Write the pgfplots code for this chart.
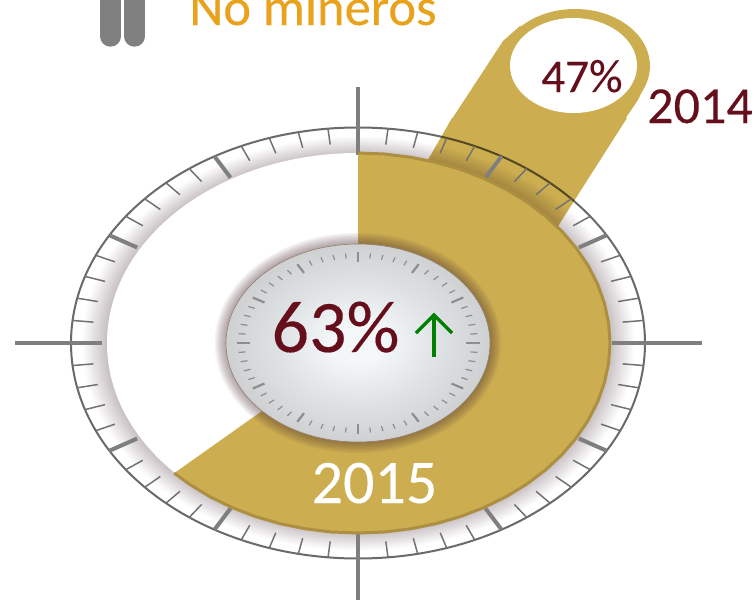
\documentclass[border=0pt]{standalone}
\usepackage{fontspec}
\setmainfont{Carlito}
\newfontfamily\chartfont{Carlito}[FakeBold=0.2]
\usepackage{pgfplots}
\usepackage{pgfplotstable}
\pgfplotsset{compat=1.18}
\definecolor{gold}{HTML}{CCAE51}
\definecolor{rim}{HTML}{AD8F42}
\definecolor{wine}{HTML}{650F1C}
\definecolor{tickgray}{HTML}{7F7F7F}
\definecolor{ticklite}{HTML}{727272}
\definecolor{dialtick}{HTML}{8E8E8E}
\definecolor{outerline}{HTML}{6A6A6A}
\definecolor{ringdark}{HTML}{C6BEC2}
\definecolor{orangetxt}{HTML}{E9A21B}
\definecolor{gcenter}{HTML}{F3F7F8}
\definecolor{gmid}{HTML}{DEE1E3}
\definecolor{gedge}{HTML}{CFD0D2}
\definecolor{shadowc}{HTML}{4A2A30}
\pgfdeclareradialshading{ringshade}{\pgfpoint{0bp}{0bp}}{color(0bp)=(ringdark); color(21.8bp)=(ringdark); color(24bp)=(white); color(25bp)=(white); color(50bp)=(white)}
\pgfdeclareradialshading{gaugeshade}{\pgfpoint{0bp}{0bp}}{color(0bp)=(gcenter); color(5bp)=(gcenter); color(16bp)=(gmid); color(25bp)=(gedge); color(50bp)=(gedge)}
% 63% sector: centre, then the rim from 0 to 226.8 degrees
\pgfplotstableread{
x y
358 343
358 153
384.3 154
410.4 157.2
435.9 162.3
460.5 169.4
484 178.5
506.1 189.3
526.6 201.8
545.3 215.9
561.9 231.3
576.2 248
588.2 265.7
597.7 284.3
604.5 303.5
608.6 323.1
610 343
608.6 362.9
604.5 382.5
597.7 401.7
588.2 420.3
576.2 438
561.9 454.7
545.3 470.1
526.6 484.2
506.1 496.7
484 507.5
460.5 516.6
435.9 523.7
410.4 528.8
384.3 532
358 533
331.7 532
305.6 528.8
280.1 523.7
255.5 516.6
232 507.5
209.9 496.7
189.4 484.2
174.3 473.1
}\sectorpts
\begin{document}
\begin{tikzpicture}
\useasboundingbox (0,0) rectangle (756pt,600pt);
\begin{axis}[
  at={(0,0)},anchor=south west,
  width=756pt,height=600pt,scale only axis,
  xmin=0,xmax=756,ymin=0,ymax=600,y dir=reverse,
  hide axis,clip=true]
% ring
\shade[shading=ringshade] (axis cs:358,343) ellipse [x radius=288,y radius=216];
\draw[outerline,line width=2pt] (axis cs:358,343) ellipse [x radius=287,y radius=215.5];
\fill[white] (axis cs:358,343) ellipse [x radius=251,y radius=190];
% tab, lower part over the ring
\addplot[fill=gold,draw=none,blend mode=multiply] coordinates {(452,118) (425,165) (470,230) (540,260) (560,223) (627,118)} -- cycle;
% ring ticks
\pgfplotsinvokeforeach{0,6,...,354}{
  \draw[ticklite,line width=1.5pt] (axis cs:{358+287*sin(#1)},{343-215.5*cos(#1)}) -- (axis cs:{358+266*sin(#1)},{343-199.5*cos(#1)});
}
\pgfplotsinvokeforeach{30,60,120,150,210,240,300,330}{
  \draw[tickgray,line width=4pt] (axis cs:{358+287*sin(#1)},{343-215.5*cos(#1)}) -- (axis cs:{358+255*sin(#1)},{343-191*cos(#1)});
}
% cross bars
\addplot[tickgray,line width=4pt] coordinates {(358,87) (358,155)};
\addplot[tickgray,line width=4pt] coordinates {(358,530) (358,600)};
\addplot[tickgray,line width=4pt] coordinates {(15,343) (102,343)};
\addplot[tickgray,line width=4pt] coordinates {(612,343) (702,343)};
% tab, upper part
\addplot[fill=gold,draw=none] coordinates {(520,26) (503,41) (448,125) (621,125) (638,100) (645,85)} -- cycle;
\fill[gold] (axis cs:575,66) ellipse [x radius=75,y radius=57];
\fill[white] (axis cs:573.5,65.5) ellipse [x radius=63.5,y radius=47.5];
% sector
\addplot[fill=gold,draw=none] table[x=x,y=y] {\sectorpts} -- cycle;
\addplot[rim,line width=3pt,skip coords between index={0}{1}] table[x=x,y=y] {\sectorpts};
% shadow of the inner dial
\pgfplotsinvokeforeach{1,2,...,8}{
  \fill[shadowc,opacity=0.06] (axis cs:358,343) ellipse [x radius={132+1.4*#1},y radius={99+1.4*#1}];
}
% inner dial
\shade[shading=gaugeshade] (axis cs:358,343) ellipse [x radius=132,y radius=99];
\draw[gray!70!brown,line width=0.6pt] (axis cs:358,343) ellipse [x radius=132,y radius=99];
\pgfplotsinvokeforeach{0,6,...,354}{
  \draw[dialtick,line width=1.2pt] (axis cs:{358+120*sin(#1)},{343-90*cos(#1)}) -- (axis cs:{358+113*sin(#1)},{343-85*cos(#1)});
}
\pgfplotsinvokeforeach{0,30,...,330}{
  \draw[dialtick,line width=2.2pt] (axis cs:{358+121.5*sin(#1)},{343-91*cos(#1)}) -- (axis cs:{358+108*sin(#1)},{343-81*cos(#1)});
}
% arrow
\addplot[green!50!black,line width=3.2pt] coordinates {(434,357) (434,314)};
\addplot[green!50!black,line width=3.2pt] coordinates {(416,333) (434,315) (452,333)};
% icon
\draw[gray,line width=21pt,line cap=round] (axis cs:110.5,-20) -- (axis cs:110.5,36.2);
\draw[gray,line width=21pt,line cap=round] (axis cs:134.5,-20) -- (axis cs:134.5,36.2);
% texts
\node[anchor=base,text=wine,inner sep=0pt] at (axis cs:335.5,352) {\chartfont\fontsize{74}{74}\selectfont 63\%};
\node[anchor=base,text=wine,inner sep=0pt] at (axis cs:582,92) {\chartfont\fontsize{47}{47}\selectfont 47\%};
\node[anchor=base,text=wine,inner sep=0pt] at (axis cs:700,123) {\chartfont\fontsize{52}{52}\selectfont 2014};
\node[anchor=base,text=white,inner sep=0pt] at (axis cs:374.5,503) {\chartfont\fontsize{62}{62}\selectfont 2015};
\node[anchor=base,text=orangetxt,inner sep=0pt] at (axis cs:313,25) {\chartfont\fontsize{52.6}{52.6}\selectfont No mineros};
\end{axis}
\end{tikzpicture}
\end{document}
